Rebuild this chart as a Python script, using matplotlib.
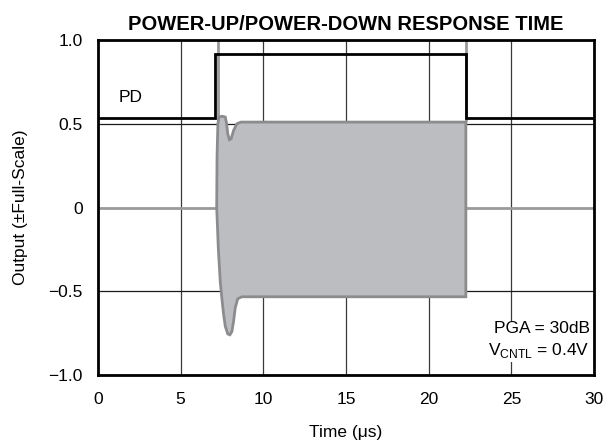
import matplotlib
matplotlib.use("Agg")
import matplotlib.pyplot as plt

plt.rcParams['font.family'] = ['Liberation Sans', 'DejaVu Sans']

# PD (power-down control) step trace
pd_t = [0.0, 7.08, 7.08, 22.25, 22.25, 30.0]
pd_v = [0.535, 0.535, 0.918, 0.918, 0.535, 0.535]

# Output envelope: upper and lower edges of the burst
up_t = [7.18, 7.20, 7.25, 7.32, 7.50, 7.70, 7.78, 7.85, 7.95, 8.05, 8.20, 8.40, 8.65, 22.25]
up_v = [0.0, 0.30, 0.50, 0.54, 0.545, 0.54, 0.50, 0.44, 0.405, 0.41, 0.46, 0.50, 0.51, 0.51]
lo_t = [7.18, 7.28, 7.40, 7.50, 7.60, 7.70, 7.85, 7.98, 8.10, 8.20, 8.30, 8.45, 8.70, 22.25]
lo_v = [0.0, -0.25, -0.45, -0.55, -0.64, -0.71, -0.755, -0.76, -0.74, -0.68, -0.60, -0.545, -0.533, -0.533]

# Output baseline outside the burst
base_t1 = [0.0, 7.18]
base_t2 = [22.25, 30.0]

# Enable / disable marker times
marker_t = [7.28, 22.27]

xticks = [0, 5, 10, 15, 20, 25, 30]
yticks = [-1.0, -0.5, 0.0, 0.5, 1.0]
ytick_labels = ['\u22121.0', '\u22120.5', '0', '0.5', '1.0']

FS = 12.5

fig = plt.figure(figsize=(6.14, 4.44), dpi=100)
ax = fig.add_axes([0.1596, 0.1554, 0.8078, 0.7545])
ax.set_xlim(0, 30)
ax.set_ylim(-1, 1)

# grid
for x in xticks[1:-1]:
    ax.axvline(x, color='#3a3a3a', lw=0.9, zorder=1)
for y in [-0.5, 0.5]:
    ax.axhline(y, color='#1a1a1a', lw=0.9, zorder=1)

# markers above the burst
for x in marker_t:
    ax.plot([x, x], [0.52, 1.0], color='#9a9a9a', lw=2.0, zorder=2)

# baseline
ax.plot(base_t1, [0, 0], color='#9a9a9a', lw=2.0, zorder=2)
ax.plot(base_t2, [0, 0], color='#9a9a9a', lw=2.0, zorder=2)

# burst envelope
poly_t = up_t + [22.25] + lo_t[::-1]
poly_v = up_v + [lo_v[-1]] + lo_v[::-1]
ax.fill(poly_t, poly_v, facecolor='#bcbdc1', edgecolor='#8c8c8e', lw=2.0, zorder=3)

# PD trace
ax.plot(pd_t, pd_v, color='black', lw=2.0, zorder=4, solid_joinstyle='miter')
ax.text(1.25, 0.655, 'PD', fontsize=FS, ha='left', va='center')

ax.text(29.75, -0.795, 'PGA = 30dB\nV$_{\\mathregular{CNTL}}$ = 0.4V', fontsize=FS,
        ha='right', va='center', linespacing=1.4,
        bbox=dict(facecolor='white', edgecolor='none', pad=1.0), zorder=5)

ax.set_xticks(xticks)
ax.set_xticklabels([str(x) for x in xticks], fontsize=FS)
ax.set_yticks(yticks)
ax.set_yticklabels(ytick_labels, fontsize=FS)
ax.tick_params(axis='x', length=0, pad=12)
ax.tick_params(axis='y', length=0, pad=11)

for s in ax.spines.values():
    s.set_linewidth(2.0)
    s.set_zorder(6)

ax.set_xlabel('Time (\u03bcs)', fontsize=FS, labelpad=13)
ax.set_ylabel('Output (\u00b1Full-Scale)', fontsize=FS, labelpad=15)
ax.set_title('POWER-UP/POWER-DOWN RESPONSE TIME', fontsize=14.5, fontweight='bold', pad=7)

fig.savefig('out.png', dpi=100)
